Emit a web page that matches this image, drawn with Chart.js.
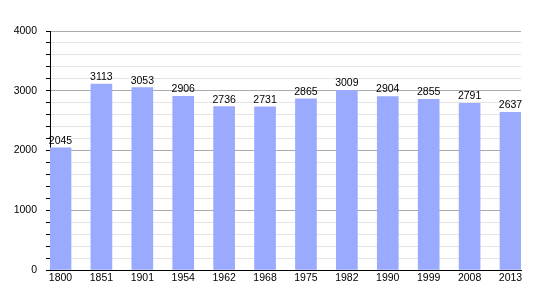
<!DOCTYPE html>
<html>
<head>
<meta charset="utf-8">
<script src="https://cdn.jsdelivr.net/npm/chart.js@4.4.1/dist/chart.umd.min.js"></script>
<style>
  html, body { margin: 0; padding: 0; background: #fff; }
  #wrap { width: 550px; height: 300px; }
</style>
</head>
<body>
<div id="wrap"><canvas id="pop-chart" width="550" height="300"></canvas></div>
<script>
// Population by census year
const years = ['1800', '1851', '1901', '1954', '1962', '1968', '1975', '1982', '1990', '1999', '2008', '2013'];
const population = [2045, 3113, 3053, 2906, 2736, 2731, 2865, 3009, 2904, 2855, 2791, 2637];
const yTicks = [0, 1000, 2000, 3000, 4000];

const FONT = 'Liberation Sans, Arial, sans-serif';

// value labels on top of each bar
const barLabels = {
    id: 'barLabels',
    afterDatasetsDraw(chart) {
        const ctx = chart.ctx;
        const meta = chart.getDatasetMeta(0);
        ctx.save();
        ctx.font = '10.5px ' + FONT;
        ctx.fillStyle = '#000';
        ctx.textAlign = 'center';
        ctx.textBaseline = 'alphabetic';
        meta.data.forEach((bar, i) => {
            ctx.fillText(String(population[i]), bar.x, bar.y - 4);
        });
        ctx.restore();
    }
};

const canvas = document.getElementById('pop-chart');
new Chart(canvas, {
    type: 'bar',
    data: {
        datasets: [{
            data: population.map((v, i) => ({ x: i, y: v })),
            backgroundColor: '#99aaff',
            borderWidth: 0,
            barThickness: 21
        }]
    },
    options: {
        responsive: false,
        animation: false,
        layout: { padding: { left: 0, right: 29, top: 31, bottom: 0 } },
        plugins: {
            legend: { display: false },
            tooltip: { enabled: false }
        },
        scales: {
            x: {
                type: 'linear',
                offset: false,
                min: -0.2567,
                max: 11.2567,
                afterBuildTicks: (scale) => { scale.ticks = years.map((_, i) => ({ value: i })); },
                afterFit: (scale) => { scale.height = 30; },
                grid: { display: false, drawTicks: false, tickLength: 0, offset: false },
                border: { display: true, color: '#000', width: 1 },
                ticks: {
                    autoSkip: false,
                    maxRotation: 0,
                    padding: 2,
                    color: '#000',
                    font: { family: FONT, size: 10.5 },
                    callback: (v) => years[v]
                }
            },
            y: {
                min: 0,
                max: 4000,
                afterFit: (scale) => { scale.width = 50; },
                grid: {
                    color: (c) => (c.tick && yTicks.includes(c.tick.value)) ? '#aaaaaa' : '#e4e4e4',
                    tickColor: '#000',
                    tickLength: 4
                },
                border: { display: true, color: '#000', width: 1 },
                ticks: {
                    stepSize: 200,
                    autoSkip: false,
                    padding: 9,
                    color: '#000',
                    font: { family: FONT, size: 10.5 },
                    callback: (v) => yTicks.includes(v) ? String(v) : ''
                }
            }
        }
    },
    plugins: [barLabels]
});
</script>
</body>
</html>
